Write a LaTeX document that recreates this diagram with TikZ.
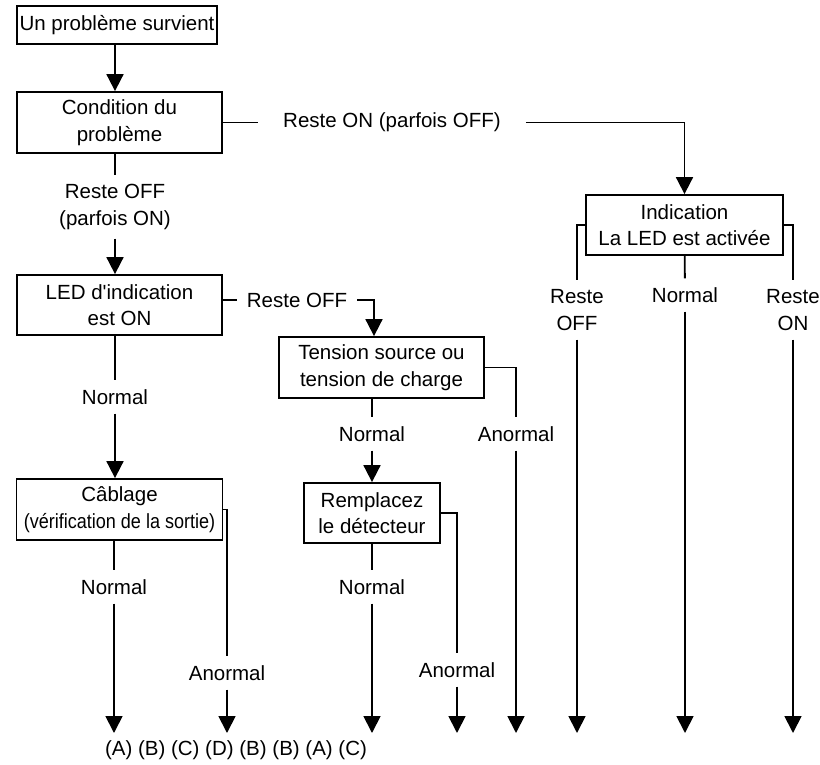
\documentclass[tikz,border=0pt]{standalone}
\usepackage{fontspec}
\setmainfont{Liberation Sans}
\usetikzlibrary{positioning, arrows.meta}

\begin{document}
\begin{tikzpicture}[x=1pt,y=-1pt,on grid,
  font=\fontsize{20.5}{26.5}\selectfont,
  box/.style={draw,line width=1.8pt,align=center,inner sep=0pt},
  tag/.style={align=center,inner sep=9pt},
  wire/.style={line width=1.8pt},
  flow/.style={line width=1.8pt,-{Triangle[width=17pt,length=17pt]}}]
\useasboundingbox (0,0) rectangle (820,764);

% boxes
\node[box,minimum width=200pt,minimum height=38pt] (start) at (117,25) {Un problème survient};
\node[box,minimum width=205pt,minimum height=61pt] (cond) at (119.5,122.5) {Condition du\\problème};
\node[box,minimum width=205pt,minimum height=60pt] (led) [below=182.5pt of cond] {LED d\textquotesingle indication\\est ON};
\node[box,minimum width=206pt,minimum height=61pt] (cabl) [below=204.5pt of led] {Câblage\\\scalebox{0.88}[1]{(vérification de la sortie)}};
\node[box,minimum width=197pt,minimum height=60pt] (ind) at (684.5,225) {Indication\\La LED est activée};
\node[box,minimum width=205pt,minimum height=61pt] (tens) at (381.5,367.5) {Tension source ou\\tension de charge};
\node[box,minimum width=136pt,minimum height=60pt] (rempl) at (372,513) {Remplacez\\le détecteur};

% labels
\node[tag] (offlbl) at (115,207) {Reste OFF\\(parfois ON)};
\node[tag,inner xsep=25pt] (onlbl) at (392,122.5) {Reste ON (parfois OFF)};
\node[tag,inner xsep=10pt] (ledoff) at (297,300) {Reste OFF};
\node[tag] (lednorm) at (115,397) {Normal};
\node[tag] (cabnorm) at (114,587) {Normal};
\node[tag] (cabanor) at (227,673) {Anormal};
\node[tag] (tensnorm) at (372,434) {Normal};
\node[tag] (tensanor) at (516,434) {Anormal};
\node[tag] (remnorm) at (372,587) {Normal};
\node[tag] (remanor) at (457,670) {Anormal};
\node[tag] (indoff) at (577,310) {Reste\\OFF};
\node[tag] (indnorm) at (685,295) {Normal};
\node[tag] (indon) at (793,310) {Reste\\ON};
\node (codes) at (236,750) {(A) (B) (C) (D) (B) (B) (A) (C)};

% free ends
\coordinate (cabend) at (114,733);
\coordinate (anorend) at (227,733);
\coordinate (remend) at (372,733);
\coordinate (remaend) at (457,733);
\coordinate (tensend) at (516,733);
\coordinate (offend) at (577,733);
\coordinate (normend) at (685,733);
\coordinate (onend) at (793,733);

% left column
\draw[flow] (offlbl |- start.south) -- (offlbl |- cond.north);
\draw[wire] (offlbl |- cond.south) -- (offlbl);
\draw[flow] (offlbl) -- (offlbl |- led.north);
\draw[wire] (lednorm |- led.south) -- (lednorm);
\draw[flow] (lednorm) -- (lednorm |- cabl.north);
\draw[wire] (cabnorm |- cabl.south) -- (cabnorm);
\draw[flow] (cabnorm) -- (cabend);
\draw[wire] (cabl.east) -| (cabanor.north);
\draw[flow] (cabanor) -- (anorend);

% reste ON branch
\draw[wire] (cond) -- (onlbl);
\draw[flow] (onlbl) -| (ind);
\draw[wire] (ind.west) -| (indoff.north);
\draw[flow] (indoff) -- (offend);
\draw[wire] (ind) -- (indnorm);
\draw[flow] (indnorm) -- (normend);
\draw[wire] (ind.east) -| (indon.north);
\draw[flow] (indon) -- (onend);

% reste OFF branch
\draw[wire] (ledoff.west -| led.east) -- (ledoff);
\draw[flow] (ledoff) -| ([xshift=-7.5pt]tens.north);
\draw[wire] (tensnorm |- tens.south) -- (tensnorm);
\draw[flow] (tensnorm) -- (rempl);
\draw[wire] (tens.east) -| (tensanor.north);
\draw[flow] (tensanor) -- (tensend);
\draw[wire] (rempl) -- (remnorm);
\draw[flow] (remnorm) -- (remend);
\draw[wire] (rempl.east) -| (remanor.north);
\draw[flow] (remanor) -- (remaend);
\end{tikzpicture}
\end{document}
